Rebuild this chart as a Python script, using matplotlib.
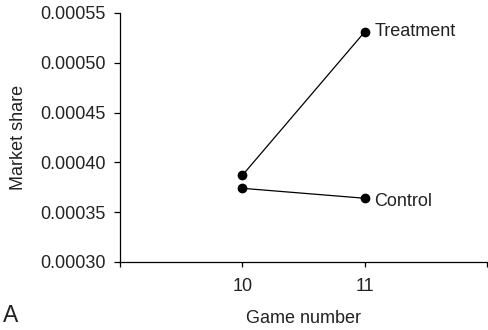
import matplotlib
matplotlib.use("Agg")
import matplotlib.pyplot as plt

games = [10, 11]
treatment = [0.000387, 0.000531]
control = [0.000374, 0.000364]
series_labels = ["Treatment", "Control"]
yticks = [0.00030, 0.00035, 0.00040, 0.00045, 0.00050, 0.00055]
ytick_labels = ["0.00030", "0.00035", "0.00040", "0.00045", "0.00050", "0.00055"]
xticks = [9, 10, 11, 12]
xtick_labels = ["", "10", "11", ""]

plt.rcParams['font.family'] = ['Liberation Sans', 'DejaVu Sans']
FS = 13

fig = plt.figure(figsize=(4.88, 3.30), dpi=100)
ax = fig.add_axes([120/488, 1-262/330, (487-120)/488, (262-13)/330])

for vals in (treatment, control):
    ax.plot(games, vals, color='black', lw=0.9, marker='o', markersize=6,
            markerfacecolor='black', markeredgecolor='black', clip_on=False)

ax.text(games[1] + 0.08, treatment[1], series_labels[0], fontsize=FS,
        va='center', ha='left', color='#222222')
ax.text(games[1] + 0.08, control[1] - 0.0000035, series_labels[1], fontsize=FS,
        va='center', ha='left', color='#222222')

ax.set_xlim(9, 12)
ax.set_ylim(0.00030, 0.00055)
ax.set_xticks(xticks)
ax.set_xticklabels(xtick_labels)
ax.set_yticks(yticks)
ax.set_yticklabels(ytick_labels)
ax.tick_params(direction='out', width=0.9, labelsize=FS,
               colors='black', labelcolor='#222222')
ax.tick_params(axis='x', length=3.6, pad=8)
ax.tick_params(axis='y', length=4.3, pad=6.3)
for s in ('top', 'right'):
    ax.spines[s].set_visible(False)
for s in ('left', 'bottom'):
    ax.spines[s].set_linewidth(0.9)

ax.set_xlabel("Game number", fontsize=FS, color='#222222', labelpad=10.5)
ax.set_ylabel("Market share", fontsize=FS, color='#222222', labelpad=9)
fig.text(11/488, 1-315/330, "A", fontsize=16.5, ha='center', va='center', color='#222222')

fig.savefig("out.png", dpi=100)
